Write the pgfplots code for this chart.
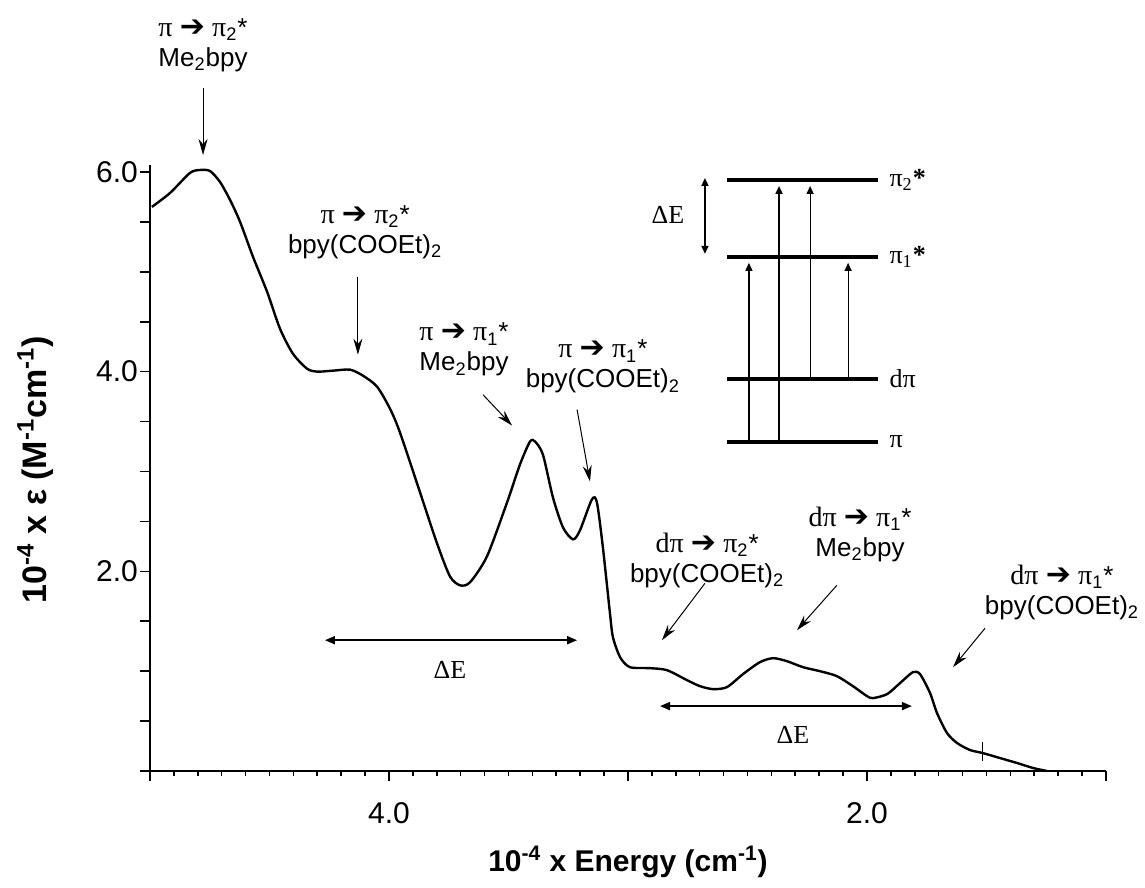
\documentclass[border=0pt]{standalone}
\usepackage{fontspec}
\setmainfont{Liberation Sans}
\newfontfamily\serif{Liberation Serif}
\newfontfamily\dejavu{DejaVu Sans}
\usepackage{pgfplots}
\pgfplotsset{compat=1.18}
\usetikzlibrary{arrows.meta}

% transition label: pi -> pi_n*
\newcommand{\tr}[2]{{\serif\fontsize{14pt}{15pt}\selectfont #1}\ {\dejavu\bfseries\fontsize{15pt}{15pt}\selectfont ➔}\ {\serif\fontsize{14pt}{15pt}\selectfont π}\textsubscript{#2}*}
\newcommand{\fs}{\fontsize{13pt}{15pt}\selectfont}

\begin{document}
\begin{tikzpicture}
\useasboundingbox (-75pt,-58.5pt) rectangle (497.5pt,385.5pt);
\begin{axis}[
    at={(0,0)}, anchor=south west,
    scale only axis,
    width=478pt, height=303pt,
    xmin=1.0, xmax=5.0, ymin=0, ymax=6.07,
    x dir=reverse,
    axis x line*=bottom, axis y line*=left,
    axis line style={line width=1.2pt},
    tick align=outside,
    xtick={1,2,3,4,5}, xticklabels={,2.0,,4.0,},
    minor x tick num=9,
    ytick={0,0.5,...,6}, yticklabels={,,,,2.0,,,,4.0,,,,6.0},
    major tick length=5pt, minor tick length=2.5pt,
    tick style={line width=0.8pt, black},
    ticklabel style={font=\fontsize{15pt}{17pt}\selectfont},
    /pgf/number format/assume math mode=true,
    xticklabel shift=7pt, yticklabel shift=-2.5pt,
    xlabel={\textbf{10\textsuperscript{-4} x Energy (cm\textsuperscript{-1})}},
    ylabel={\textbf{10\textsuperscript{-4} x ε (M\textsuperscript{-1}cm\textsuperscript{-1})}},
    xlabel style={font=\fontsize{15pt}{17pt}\selectfont, at={(axis description cs:0.5,-0.150)}, anchor=center},
    ylabel style={font=\fontsize{17pt}{19pt}\selectfont, at={(axis description cs:-0.120,0.497)}, anchor=center},
    clip=false,
]
\addplot[black, line width=1.2pt, smooth, tension=0.45] coordinates {
(4.992,5.65) (4.916,5.79) (4.833,5.99) (4.791,6.02) (4.749,6.01) (4.707,5.90)
(4.665,5.72) (4.623,5.50) (4.569,5.15) (4.510,4.80) (4.456,4.43) (4.402,4.18)
(4.343,4.03) (4.301,4.00) (4.234,4.01) (4.163,4.02) (4.109,3.96) (4.050,3.85)
(3.996,3.63) (3.954,3.39) (3.870,2.79) (3.799,2.28) (3.745,1.95) (3.703,1.86)
(3.661,1.89) (3.590,2.15) (3.506,2.69) (3.452,3.07) (3.410,3.30) (3.389,3.30)
(3.356,3.17) (3.314,2.74) (3.272,2.44) (3.230,2.32) (3.201,2.41) (3.151,2.72)
(3.130,2.69) (3.105,2.24) (3.075,1.57) (3.063,1.34) (3.033,1.14) (2.992,1.04)
(2.908,1.03) (2.837,1.01) (2.753,0.91) (2.699,0.85) (2.644,0.82) (2.586,0.84)
(2.519,0.97) (2.448,1.09) (2.393,1.13) (2.335,1.10) (2.268,1.04) (2.197,1.00)
(2.126,0.95) (2.059,0.85) (2.000,0.75) (1.975,0.73) (1.916,0.77) (1.862,0.88)
(1.808,0.99) (1.778,0.97) (1.736,0.78) (1.707,0.58) (1.665,0.38) (1.623,0.28)
(1.569,0.21) (1.516,0.18) (1.444,0.13) (1.372,0.08) (1.305,0.03) (1.247,0.00)
};
% noise spike in the tail
\addplot[black, line width=0.8pt] coordinates {(1.516,0.10) (1.516,0.29)};

% peak assignments
\node[font=\fs, align=center] at (4.778,7.27) {\tr{π}{2}\\Me\textsubscript{2}bpy};
\draw[-{Stealth[length=8pt,width=4.5pt]}, line width=0.5pt] (4.778,6.84) -- (4.778,6.17);
\node[font=\fs, align=center] at (4.100,5.40) {\tr{π}{2}\\bpy(COOEt)\textsubscript{2}};
\draw[-{Stealth[length=8pt,width=4.5pt]}, line width=0.5pt] (4.130,4.95) -- (4.130,4.17);
\node[font=\fs, align=center] at (3.686,4.22) {\tr{π}{1}\\Me\textsubscript{2}bpy};
\draw[-{Stealth[length=8pt,width=4.5pt]}, line width=0.5pt] (3.607,3.77) -- (3.485,3.46);
\node[font=\fs, align=center] at (3.105,4.05) {\tr{π}{1}\\bpy(COOEt)\textsubscript{2}};
\draw[-{Stealth[length=8pt,width=4.5pt]}, line width=0.5pt] (3.213,3.62) -- (3.159,2.90);
\node[font=\fs, align=center] at (2.669,2.11) {\tr{dπ}{2}\\bpy(COOEt)\textsubscript{2}};
\draw[-{Stealth[length=8pt,width=4.5pt]}, line width=0.5pt] (2.678,1.88) -- (2.858,1.31);
\node[font=\fs, align=center] at (2.029,2.37) {\tr{dπ}{1}\\Me\textsubscript{2}bpy};
\draw[-{Stealth[length=8pt,width=4.5pt]}, line width=0.5pt] (2.126,1.86) -- (2.293,1.41);
\node[font=\fs, align=center] at (1.184,1.79) {\tr{dπ}{1}\\bpy(COOEt)\textsubscript{2}};
\draw[-{Stealth[length=8pt,width=4.5pt]}, line width=0.5pt] (1.506,1.43) -- (1.640,1.04);

% Delta E spacings
\draw[{Triangle[length=5pt,width=4pt]}-{Triangle[length=5pt,width=4pt]}, line width=0.9pt] (4.268,1.31) -- (3.213,1.31);
\node[font=\serif\fontsize{13pt}{14pt}\selectfont] at (3.745,1.01) {ΔE};
\draw[{Triangle[length=5pt,width=4pt]}-{Triangle[length=5pt,width=4pt]}, line width=0.9pt] (2.866,0.65) -- (1.812,0.65);
\node[font=\serif\fontsize{13pt}{14pt}\selectfont] at (2.310,0.36) {ΔE};

% energy level diagram
\draw[line width=2pt] (2.586,5.92) -- (1.954,5.92);
\draw[line width=2pt] (2.586,5.15) -- (1.954,5.15);
\draw[line width=2pt] (2.586,3.93) -- (1.954,3.93);
\draw[line width=2pt] (2.586,3.30) -- (1.954,3.30);
\node[font=\serif\fontsize{13pt}{14pt}\selectfont, anchor=west] at (1.935,5.92) {π\textsubscript{2}\textbf{*}};
\node[font=\serif\fontsize{13pt}{14pt}\selectfont, anchor=west] at (1.935,5.15) {π\textsubscript{1}\textbf{*}};
\node[font=\serif\fontsize{13pt}{14pt}\selectfont, anchor=west] at (1.935,3.93) {dπ};
\node[font=\serif\fontsize{13pt}{14pt}\selectfont, anchor=west] at (1.935,3.30) {π};
\draw[-{Triangle[length=4pt,width=3.5pt]}, line width=0.6pt] (2.494,3.30) -- (2.494,5.09);
\draw[-{Triangle[length=4pt,width=3.5pt]}, line width=0.9pt] (2.368,3.30) -- (2.368,5.86);
\draw[-{Triangle[length=4pt,width=3.5pt]}, line width=0.6pt] (2.238,3.93) -- (2.238,5.86);
\draw[-{Triangle[length=4pt,width=3.5pt]}, line width=0.6pt] (2.079,3.93) -- (2.079,5.09);
\draw[{Triangle[length=4pt,width=3.5pt]}-{Triangle[length=4pt,width=3.5pt]}, line width=0.8pt] (2.678,5.94) -- (2.678,5.18);
\node[font=\serif\fontsize{13pt}{14pt}\selectfont] at (2.833,5.57) {ΔE};
\end{axis}
\end{tikzpicture}
\end{document}
